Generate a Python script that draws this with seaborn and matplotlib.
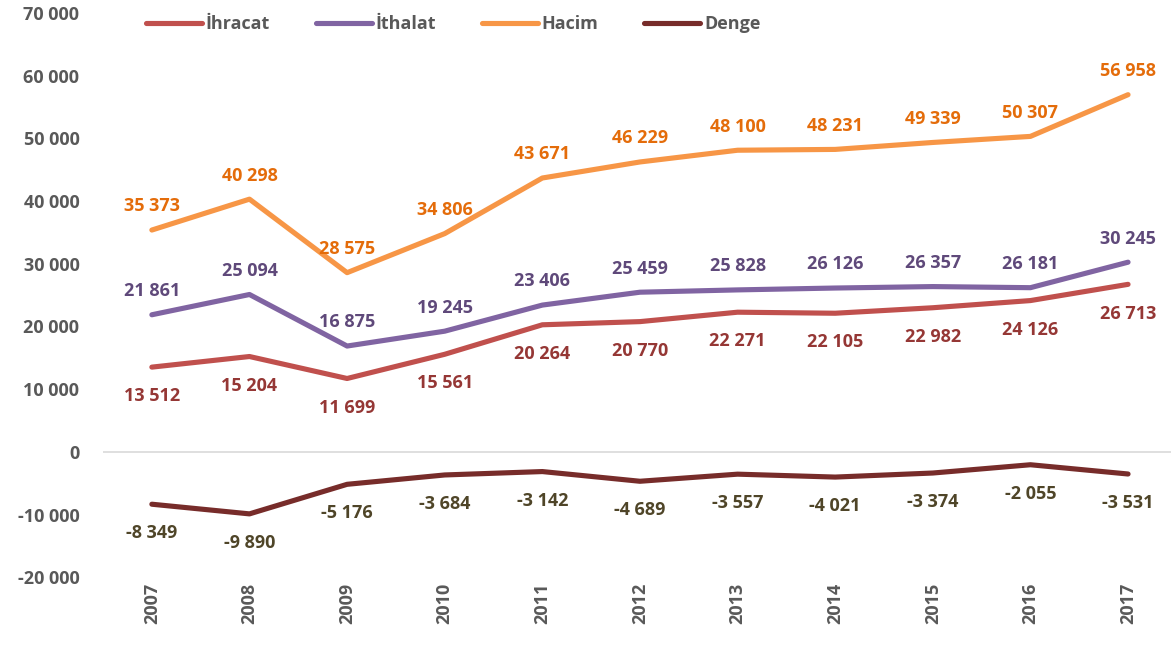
import pandas as pd
import matplotlib.pyplot as plt
import seaborn as sns

# Dış ticaret verileri
years = [2007, 2008, 2009, 2010, 2011, 2012, 2013, 2014, 2015, 2016, 2017]
ihracat = [13512, 15204, 11699, 15561, 20264, 20770, 22271, 22105, 22982, 24126, 26713]
ithalat = [21861, 25094, 16875, 19245, 23406, 25459, 25828, 26126, 26357, 26181, 30245]
hacim = [35373, 40298, 28575, 34806, 43671, 46229, 48100, 48231, 49339, 50307, 56958]
denge = [-8349, -9890, -5176, -3684, -3142, -4689, -3557, -4021, -3374, -2055, -3531]
series_names = ['İhracat', 'İthalat', 'Hacim', 'Denge']

line_colors = ['#C0504D', '#8064A2', '#F79646', '#772C2A']
label_colors = ['#953735', '#5F497A', '#E46C0A', '#4F4528']
label_pos = ['below', 'above', 'above', 'below']

sns.set_style('white')
plt.rcParams['font.family'] = ['Open Sans', 'DejaVu Sans']
plt.rcParams['font.weight'] = 'bold'

df = pd.DataFrame({'yil': [str(y) for y in years], 'İhracat': ihracat,
                   'İthalat': ithalat, 'Hacim': hacim, 'Denge': denge})
long_df = df.melt(id_vars='yil', var_name='seri', value_name='deger')

fig = plt.figure(figsize=(11.71, 6.45), dpi=100)
ax = fig.add_axes([0.088, 0.105, 0.912, 0.875])

sns.lineplot(data=long_df, x='yil', y='deger', hue='seri', hue_order=series_names,
             palette=line_colors, linewidth=3.7, ax=ax, legend=False, sort=False)

def fmt(v):
    return f'{v:,}'.replace(',', ' ')

for name, lc, pos in zip(series_names, label_colors, label_pos):
    for i, v in enumerate(df[name]):
        off = 17 if pos == 'above' else -21
        ax.annotate(fmt(v), (i, v), xytext=(0, off), textcoords='offset points',
                    ha='center', va='center', color=lc, fontsize=13, fontweight='bold')

ax.axhline(0, color='#D9D9D9', linewidth=1.2, zorder=0)
ax.set_ylim(-20000, 70000)
ax.set_xlim(-0.5, 10.44)
ax.set_yticks(range(-20000, 70001, 10000))
ax.set_yticklabels([fmt(t) for t in range(-20000, 70001, 10000)])
ax.tick_params(axis='y', labelsize=13, labelcolor='#595959', length=0, pad=17)
ax.tick_params(axis='x', labelsize=13, labelcolor='#595959', length=0, pad=4)
plt.setp(ax.get_xticklabels(), rotation=90, fontweight='bold')
plt.setp(ax.get_yticklabels(), fontweight='bold')
ax.set_xlabel('')
ax.set_ylabel('')
sns.despine(ax=ax, left=True, bottom=True)

handles = [plt.Line2D([0], [0], color=c, linewidth=3.7, solid_capstyle='round') for c in line_colors]
leg = ax.legend(handles, series_names, loc='upper left', bbox_to_anchor=(0.025, 1.025),
                ncol=4, frameon=False, fontsize=13, handlelength=3.1, handletextpad=0.2,
                columnspacing=2.55)
for t in leg.get_texts():
    t.set_color('#595959')
    t.set_fontweight('bold')

fig.savefig('out.png', dpi=100)
